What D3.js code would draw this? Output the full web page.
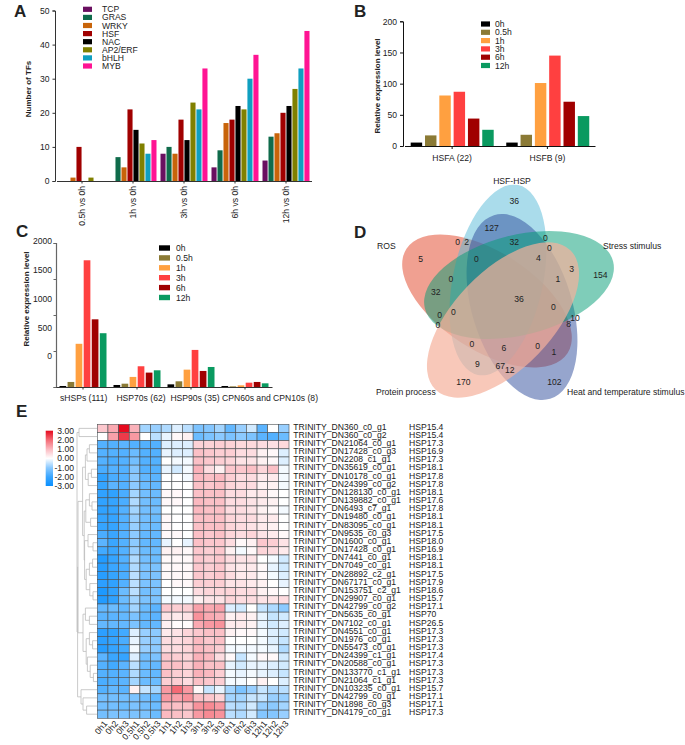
<!DOCTYPE html>
<html><head><meta charset="utf-8">
<script src="https://cdn.jsdelivr.net/npm/d3@7"></script>
<style>
html,body{margin:0;padding:0;background:#fff}
svg{display:block}
text{font-family:"Liberation Sans",Arial,sans-serif;fill:#222}
</style></head><body>
<svg id="c" width="685" height="745"></svg>
<script>
// ---------- Panel A ----------
const tfGroups = ["0.5h vs 0h","1h vs 0h","3h vs 0h","6h vs 0h","12h vs 0h"];
const tfNames = ["TCP","GRAS","WRKY","HSF","NAC","AP2/ERF","bHLH","MYB"];
const tfColors = ["#6a0f60","#0f6b4b","#c8640a","#a00000","#000000","#808000","#0f9fc0","#ff1493"];
const tfCounts = [
  [0,0,1,10,0,1,0,0],
  [0,7,4,21,15,11,8,12],
  [8,10,8,18,12,23,21,33],
  [4,9,17,18,22,21,30,37],
  [6,13,14,20,22,27,33,44]
];
// ---------- Panels B and C ----------
const timeNames = ["0h","0.5h","1h","3h","6h","12h"];
const timeColors = ["#000000","#8b7a35","#ffa040","#ff4040","#a00000","#0a9a60"];
const hsfGroups = ["HSFA (22)","HSFB (9)"];
const hsfValues = [[5.5,17,81,87,44,26],[5.5,18,101,145,71,48]];
const hspGroups = ["sHSPs (111)","HSP70s (62)","HSP90s (35)","CPN60s and CPN10s (8)"];
const hspValues = [
  [14,70,600,1760,940,747],
  [28,46,140,288,200,232],
  [37,79,241,515,223,278],
  [14,9,23,60,70,51]
];
const hspTicks = [0,500,1000,1500,2000];
// ---------- Panel D ----------
const vennNames = ["ROS","HSF-HSP","Heat and temperature stimulus","Stress stimulus","Protein process"];
const vennColors = ["#e14123","#55b9d7","#2d4b9b","#009b73","#f5b09b"];
const vennOpacity = [.5,.5,.5,.5,.7];
const vennCounts = [36,127,0,2,32,0,0,5,0,4,3,154,0,1,32,36,0,0,0,10,8,0,0,6,0,1,9,67,12,170,102];
const vennCountXY = [[514.3,200.7],[491.7,228],[457.7,242.3],[466.7,241.7],[514.3,241.7],[545.3,238.3],[549.3,247.7],[420.7,259.3],[476.3,258.7],[538.3,258.3],[571.7,269],[600.3,275.3],[451,279],[558,279],[435.7,292],[519,299.3],[553.3,307.3],[453.3,312],[439.7,315.3],[575,318],[568.7,324],[438,325],[472,344],[504,347.7],[537.7,345.7],[554,352],[477.3,364.3],[500.3,366],[509.7,370.3],[463.3,381.7],[554.3,381.7]];
// ---------- Panel E ----------
const sampleNames = ["0h1","0h2","0h3","0.5h1","0.5h2","0.5h3","1h1","1h2","1h3","3h1","3h2","3h3","6h1","6h2","6h3","12h1","12h2","12h3"];
const geneIds = ["TRINITY_DN360_c0_g1","TRINITY_DN360_c0_g2","TRINITY_DN21064_c0_g1","TRINITY_DN17428_c0_g3","TRINITY_DN2208_c1_g1","TRINITY_DN35619_c0_g1","TRINITY_DN10178_c0_g1","TRINITY_DN24399_c0_g2","TRINITY_DN128130_c0_g1","TRINITY_DN139882_c0_g1","TRINITY_DN6493_c7_g1","TRINITY_DN19480_c0_g1","TRINITY_DN83095_c0_g1","TRINITY_DN9535_c0_g3","TRINITY_DN1600_c0_g1","TRINITY_DN17428_c0_g1","TRINITY_DN7441_c0_g1","TRINITY_DN7049_c0_g1","TRINITY_DN28892_c2_g1","TRINITY_DN67171_c0_g1","TRINITY_DN153751_c2_g1","TRINITY_DN29907_c0_g1","TRINITY_DN42799_c0_g2","TRINITY_DN5635_c0_g1","TRINITY_DN7102_c0_g1","TRINITY_DN4551_c0_g1","TRINITY_DN1976_c0_g1","TRINITY_DN55473_c0_g1","TRINITY_DN24399_c1_g1","TRINITY_DN20588_c0_g1","TRINITY_DN133770_c1_g1","TRINITY_DN21064_c1_g1","TRINITY_DN103235_c0_g1","TRINITY_DN42799_c0_g1","TRINITY_DN1898_c0_g3","TRINITY_DN4179_c0_g1"];
const geneFamily = ["HSP15.4","HSP15.4","HSP17.3","HSP16.9","HSP17.3","HSP18.1","HSP17.8","HSP17.8","HSP18.1","HSP17.6","HSP17.8","HSP18.1","HSP18.1","HSP17.5","HSP18.0","HSP16.9","HSP18.1","HSP18.1","HSP17.5","HSP17.9","HSP18.6","HSP15.7","HSP17.1","HSP70","HSP26.5","HSP17.3","HSP17.3","HSP17.3","HSP17.4","HSP17.3","HSP17.3","HSP17.3","HSP15.7","HSP17.1","HSP17.1","HSP17.3"];
const heatValues = [
[.8,1.2,3,1.1,-.8,-.9,-.7,-.3,-.6,-1.2,-1.1,-.8,-1.5,-.9,-.4,-1.6,0,-.9],
[0,1.3,2.5,1.4,0,-.6,-.2,.1,.2,-1.4,-1.2,-1,-1.2,-1,-1.2,-1.6,-1.7,-1.4],
[-1.7,-1.7,-1.6,-1.7,-1.7,-1.7,-.3,-.3,-.3,.65,.65,.7,.65,.55,.55,.5,.45,.55],
[-1.7,-1.7,-1.7,-1.4,-1.7,-1.7,-.2,-.3,-.3,.9,.8,.7,.7,.5,.5,.2,.1,-.3],
[-1.7,-1.8,-1.7,-1.3,-1.7,-1.7,0,-.1,-.1,.9,.8,.7,.6,.4,.4,.2,.1,-.3],
[-1.8,-1.7,-1.7,-1.1,-1.7,-1.7,-.2,-.4,-.1,1.1,.5,.2,.8,.8,.9,.6,.9,-.1],
[-2.2,-1.8,-1.7,-1,-1.5,-1.6,0,0,-.1,1,.9,1,.7,.5,.5,.3,.3,-.1],
[-2.1,-1.6,-1.7,-1,-1.4,-1.5,0,0,0,.9,.8,.9,.6,.5,.5,.2,.2,-.1],
[-2.2,-2.2,-1.8,-.8,-1.3,-1.4,.1,.1,0,.9,.9,.9,.5,.5,.3,.3,.1,0],
[-2.2,-2.1,-1.8,-.7,-1.3,-1.4,.1,.1,0,1,.9,.9,.5,.5,.4,.3,.2,0],
[-2.2,-2.1,-1.7,-.8,-1.3,-1.3,0,0,0,1,.9,.9,.5,.5,.4,.2,.1,-.1],
[-2.1,-2.1,-1.7,-.9,-1.3,-1.4,.1,0,0,.9,.9,.9,.6,.5,.5,.3,.3,0],
[-2.1,-2.1,-1.7,-.9,-1.3,-1.4,.1,0,0,.9,.9,.9,.6,.5,.4,.3,.2,0],
[-1.8,-2,-1.7,-1,-1.5,-1.5,.1,.1,0,.9,.8,.9,.6,.5,.6,.4,.3,.1],
[-1.6,-2,-1.7,-1,-1.5,-1.5,-.2,0,-.2,.9,.8,.8,.5,.1,.2,.8,.7,.4],
[-1.9,-2,-1.7,-.9,-1.4,-1.4,.2,.2,.1,.8,.7,.8,.2,-.1,.1,.6,.5,.3],
[-2.5,-2.1,-1.7,-.7,-1.3,-1.4,.1,.1,.1,.8,.7,.8,.5,.4,.4,0,-.1,-.4],
[-2.4,-2,-1.8,-.7,-1.2,-1.2,.1,.1,.1,.8,.7,.8,.4,.3,.3,.1,-.2,-.4],
[-2.4,-2.1,-1.8,-.6,-1.2,-1.2,.1,.1,.1,.8,.7,.8,.5,.3,.3,.1,-.1,-.3],
[-2.3,-2.2,-1.7,-.6,-1.2,-1.2,0,.1,.1,.7,.7,.7,.4,.4,.3,.2,0,-.2],
[-2.6,-2.2,-1.4,-.6,-1.3,-1.2,0,0,0,.5,.6,.6,.6,.5,.5,.2,.1,0],
[-2.5,-2.2,-1.4,-.8,-1.2,-1.2,-.1,-.1,-.1,.2,.4,.4,.6,.5,.5,.4,.4,.5],
[-1.5,-1.4,-1.5,-.8,-1.4,-1.6,.8,.7,.7,1.3,1.2,1.3,-.3,-.4,0,-.5,-.7,-1],
[-1.6,-1.6,-1.5,-1.2,-1.5,-1.6,.4,.3,.4,1.5,1.2,1.1,.2,.3,.2,-.2,-.5,-.4],
[-1.5,-1.5,-1.5,-1.2,-1.5,-1.5,.2,.05,.05,1.2,1.4,1.5,.3,.3,.2,-.2,-.4,-.3],
[-2.3,-2.2,-1.9,-.3,-.9,-1,.3,.4,.6,.8,.9,.9,.2,.1,.1,-.1,-.3,-.4],
[-2.3,-2.1,-1.8,-.2,-.9,-1,.5,.5,.6,1,.8,.9,0,0,0,-.1,-.3,-.5],
[-2.4,-2.1,-1.9,-.1,-.9,-1,.5,.5,.6,1,.9,.7,-.1,-.1,-.1,-.1,-.2,-.7],
[-1.6,-2,-2.1,-.3,-1.3,-1.2,.8,.7,.6,1.1,1,.5,.1,-.5,-.1,.1,.1,-.4],
[-1.7,-1.9,-1.6,-.6,-1.4,-1.5,.9,.9,.7,1.1,.9,.9,-.2,-.4,-.2,-.2,-.3,-.4],
[-1.7,-1.7,-1.6,-.7,-1.4,-1.5,.9,.7,.6,1.1,1,.7,-.1,-.2,-.1,-.2,-.3,-.5],
[-1.8,-1.7,-1.6,-.8,-1.4,-1.4,.7,.7,.5,.9,.8,.7,-.1,-.1,0,.2,0,-.3],
[-1.7,-1.5,-1.6,.2,-.5,-.8,1.4,2,1.4,.1,-.5,-.2,-.8,-1.2,-.9,-.5,-.7,-.6],
[-1.3,-1.3,-1.3,-1.2,-1.3,-1.5,1.4,1.3,1.5,.9,.8,.6,-.8,-.8,-.5,-.5,-.9,-.9],
[-1.3,-1.3,-1.4,-1.2,-1.3,-1.4,1,.9,.9,1.5,1.6,1.4,-.6,-.7,-.4,-.9,-1,-.8],
[-1.3,-1.2,-1.2,-1.2,-1.2,-1.4,1,.9,.8,1.4,1.6,1.5,-.6,-.7,-.4,-1.1,-1.1,-.9]
];
const colorTicks = [3,2,1,0,-1,-2,-3];
// dendrogram: [joinDepth, childA, childB]; a number is a row index
const rowTree = [0,
  [.1,0,1],
  [.03,
    [.05,
      [.28,
        [.42,[.5,[.62,2,3],4],[.56,[.72,5,6],7]],
        [.36,[.44,[.62,8,[.75,9,10]],[.68,11,12]],[.38,[.55,13,[.8,14,15]],[.46,[.62,[.78,16,17],18],[.64,19,[.8,20,21]]]]]
      ],
      [.3,[.42,22,[.62,23,24]],[.46,[.62,25,[.78,26,27]],[.52,28,[.66,29,[.82,30,31]]]]]
    ],
    [.2,32,[.3,33,[.48,34,35]]]
  ]
];

const svg = d3.select("#c");
const FS = 8.6;
function txt(g,x,y,s,o={}){
  return g.append("text").attr("x",x).attr("y",y).text(s)
    .attr("font-size",o.size||FS).attr("font-weight",o.weight||null)
    .attr("text-anchor",o.anchor||"start").attr("dominant-baseline",o.base||"central")
    .attr("transform",o.rot!=null?`rotate(${o.rot},${x},${y})`:null);
}
function styleAxis(g,col){
  g.selectAll("path,line").attr("stroke",col).attr("stroke-width",1);
  g.selectAll("text").attr("font-size",FS).attr("font-family",'"Liberation Sans",Arial,sans-serif').attr("fill","#222");
}
function legend(g,names,colors,sx,sw,sh,tx,y0,dy){
  names.forEach((n,i)=>{
    g.append("rect").attr("x",sx).attr("y",y0+i*dy-sh/2).attr("width",sw).attr("height",sh).attr("fill",colors[i]);
    txt(g,tx,y0+i*dy,n);
  });
}
[["A",14,17],["B",354,17],["C",16,237],["D",354,238],["E",16,417]].forEach(d=>txt(svg,d[1],d[2],d[0],{size:17,weight:"bold",base:"auto"}));

// Panel A
{
  const g=svg.append("g");
  const y=d3.scaleLinear().domain([0,50]).range([181,10.5]);
  const x0=d3.scaleBand().domain(tfGroups).range([56.5,311.5]);
  const x1=d3.scaleBand().domain(tfNames).range([2,49]).paddingInner(.15);
  tfGroups.forEach((gr,i)=>tfNames.forEach((n,j)=>{
    g.append("rect").attr("x",x0(gr)+x1(n)).attr("width",x1.bandwidth())
      .attr("y",y(tfCounts[i][j])).attr("height",y(0)-y(tfCounts[i][j])).attr("fill",tfColors[j]);
  }));
  const ax=g.append("g").attr("transform","translate(55,0)").call(d3.axisLeft(y).tickValues([0,10,20,30,40,50]).tickSize(2.5).tickPadding(3));
  styleAxis(ax,"#333");
  const bx=g.append("g").attr("transform","translate(0,181)").call(d3.axisBottom(x0).tickSize(2.5).tickSizeOuter(0));
  styleAxis(bx,"#333");
  bx.selectAll("text").attr("transform","rotate(-90)").attr("text-anchor","end").attr("x",-5).attr("y",0).attr("dy",".32em");
  txt(g,28,89,"Number of TFs",{weight:"bold",anchor:"middle",rot:-90,size:8});
  legend(g,tfNames,tfColors,83,9,5.2,102,9.3,8.1);
}
// Panel B
{
  const g=svg.append("g");
  const y=d3.scaleLinear().domain([0,200]).range([146,21.3]);
  const x0=d3.scaleBand().domain(hsfGroups).range([404.5,595]);
  const x1=d3.scaleBand().domain(timeNames).range([0,83]).paddingInner(.2);
  const off=[6.2,6.5];
  hsfGroups.forEach((gr,i)=>timeNames.forEach((n,j)=>{
    g.append("rect").attr("x",x0(gr)+off[i]+x1(n)).attr("width",x1.bandwidth())
      .attr("y",y(hsfValues[i][j])).attr("height",y(0)-y(hsfValues[i][j])).attr("fill",timeColors[j]);
  }));
  const ax=g.append("g").attr("transform","translate(403,0)").call(d3.axisLeft(y).tickValues([0,50,100,150,200]).tickSize(3).tickPadding(3));
  styleAxis(ax,"#111");
  const bx=g.append("g").attr("transform","translate(0,146)").call(d3.axisBottom(x0).tickSize(3).tickSizeOuter(0).tickPadding(6));
  styleAxis(bx,"#111");
  txt(g,377,86,"Relative expression level",{weight:"bold",anchor:"middle",rot:-90,size:8});
  legend(g,timeNames,timeColors,481,9,5.2,495,24,8.3);
}
// Panel C
{
  const g=svg.append("g");
  const y=d3.scaleLinear().domain([0,2000]).range([387,243]);
  const yLab=d3.scaleLinear().domain([0,2000]).range([356,241]);
  const x0=d3.scaleBand().domain(hspGroups).range([56,272]);
  const x1=d3.scaleBand().domain(timeNames).range([3.5,50.5]).paddingInner(.17);
  hspGroups.forEach((gr,i)=>timeNames.forEach((n,j)=>{
    g.append("rect").attr("x",x0(gr)+x1(n)).attr("width",x1.bandwidth())
      .attr("y",y(hspValues[i][j])).attr("height",y(0)-y(hspValues[i][j])).attr("fill",timeColors[j]);
  }));
  const ax=g.append("g").attr("transform","translate(56,0)").call(d3.axisLeft(y).tickValues(hspTicks).tickSize(2.5).tickFormat(""));
  styleAxis(ax,"#666");
  ax.select(".domain").attr("stroke-width",1.2);
  const lx=g.append("g").attr("transform","translate(56,0)").call(d3.axisLeft(yLab).tickValues(hspTicks).tickSize(0).tickPadding(4).tickFormat(d3.format("d")));
  lx.select(".domain").remove();
  styleAxis(lx,"#666");
  const bx=g.append("g").attr("transform","translate(0,387)").call(d3.axisBottom(x0).tickSize(2.5).tickSizeOuter(0).tickFormat(""));
  styleAxis(bx,"#333");
  const labX=[.7,4,4,25];
  hspGroups.forEach((gr,i)=>txt(g,x0(gr)+x0.bandwidth()/2+labX[i],398,gr,{anchor:"middle"}));
  txt(g,26,299,"Relative expression level",{weight:"bold",anchor:"middle",rot:-90,size:8});
  legend(g,timeNames,timeColors,159,11,5.4,176,248,9.9);
}
// Panel D
{
  const g=svg.append("g");
  const cx=[487,498,522,519,503], cy=[301,280,307,285,320], rx=[96,97,96,97,97], ry=[49,45,50,50,49], ang=[33,-78,73,-14,-46];
  vennNames.forEach((n,i)=>{
    g.append("ellipse").attr("cx",cx[i]).attr("cy",cy[i]).attr("rx",rx[i]).attr("ry",ry[i])
      .attr("transform",`rotate(${ang[i]},${cx[i]},${cy[i]})`).attr("fill",vennColors[i]).attr("fill-opacity",vennOpacity[i]);
  });
  vennCounts.forEach((v,i)=>txt(g,vennCountXY[i][0],vennCountXY[i][1],v,{anchor:"middle"}));
  const lx=[377,512,567,603,376], ly=[246,181,392,246,392], la=["start","middle","start","start","start"];
  vennNames.forEach((n,i)=>txt(g,lx[i],ly[i],n,{anchor:la[i]}));
}
// Panel E
{
  const g=svg.append("g");
  const x=d3.scaleBand().domain(sampleNames).range([97.3,289]);
  const y=d3.scaleBand().domain(geneIds.map((d,i)=>i)).range([424.3,718.3]);
  const col=d3.scaleLinear().domain([-3,-2,-1,0,1,2,3]).range(["#0a90ff","#3aa6ff","#8ccaff","#ffffff","#fbb9c0","#f46a75","#e60a1e"]);
  heatValues.forEach((row,r)=>row.forEach((v,c)=>{
    g.append("rect").attr("x",x(sampleNames[c])).attr("y",y(r)).attr("width",x.bandwidth()).attr("height",y.bandwidth())
      .attr("fill",col(v)).attr("stroke","#4a4f52").attr("stroke-width",.6);
  }));
  geneIds.forEach((n,i)=>{
    txt(g,293.3,y(i)+y.bandwidth()/2-1.8,n);
    txt(g,409,y(i)+y.bandwidth()/2-1.8,geneFamily[i]);
  });
  sampleNames.forEach(s=>{
    const px=x(s)+x.bandwidth()/2+3, py=722;
    txt(g,px,py,s,{anchor:"end",rot:-50});
  });
  // colour bar
  const cb=d3.scaleLinear().domain([3,-3]).range([430.7,486]);
  const grad=svg.append("defs").append("linearGradient").attr("id","cbar").attr("x1",0).attr("x2",0).attr("y1",0).attr("y2",1);
  [3,2,1,0,-1,-2,-3].forEach((v,i)=>grad.append("stop").attr("offset",i/6).attr("stop-color",col(v)));
  g.append("rect").attr("x",45.7).attr("y",cb(3)).attr("width",7.3).attr("height",cb(-3)-cb(3)).attr("fill","url(#cbar)");
  colorTicks.forEach(t=>txt(g,74,cb(t),d3.format(".2f")(t).replace("−","-"),{anchor:"end"}));
  // dendrogram
  const dx=d3.scaleLinear().domain([0,1]).range([77,97]);
  function draw(n){
    if(typeof n==="number") return {x:dx(1),y:y(n)+y.bandwidth()/2};
    const a=draw(n[1]), b=draw(n[2]), X=dx(n[0]);
    g.append("path").attr("d",d3.line()([[a.x,a.y],[X,a.y],[X,b.y],[b.x,b.y]])).attr("fill","none").attr("stroke","#bdbdbd").attr("stroke-width",.8);
    return {x:X,y:(a.y+b.y)/2};
  }
  draw(rowTree);
}
</script>
</body></html>
